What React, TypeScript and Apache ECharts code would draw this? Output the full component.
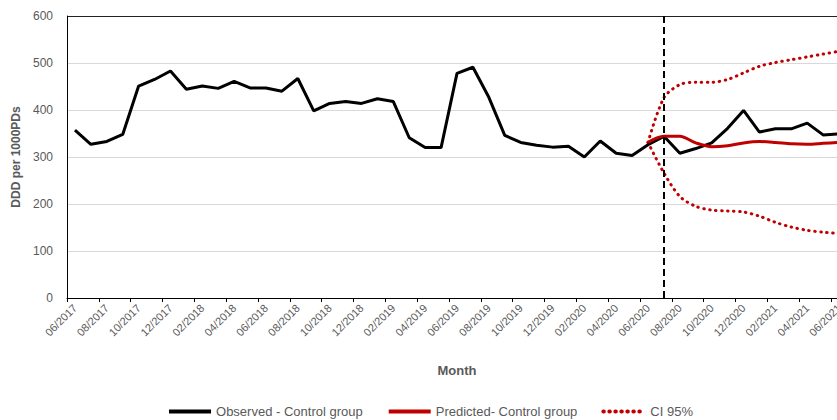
import React, { useEffect, useRef } from "react";
import * as echarts from "echarts";

// Monthly categories, 06/2017 – 06/2021
const months = [
  "06/2017", "07/2017", "08/2017", "09/2017", "10/2017", "11/2017", "12/2017",
  "01/2018", "02/2018", "03/2018", "04/2018", "05/2018", "06/2018", "07/2018",
  "08/2018", "09/2018", "10/2018", "11/2018", "12/2018", "01/2019", "02/2019",
  "03/2019", "04/2019", "05/2019", "06/2019", "07/2019", "08/2019", "09/2019",
  "10/2019", "11/2019", "12/2019", "01/2020", "02/2020", "03/2020", "04/2020",
  "05/2020", "06/2020", "07/2020", "08/2020", "09/2020", "10/2020", "11/2020",
  "12/2020", "01/2021", "02/2021", "03/2021", "04/2021", "05/2021", "06/2021",
];

// Observed DDD per 1000 PDs, control group
const observed = [
  357, 327, 333, 348, 451, 465, 483, 444, 451, 446, 461, 447, 447, 440, 467,
  398, 414, 418, 414, 424, 418, 341, 320, 320, 478, 491, 427, 346, 331, 325,
  321, 323, 300, 334, 308, 303, 326, 344, 308, 318, 330, 361, 399, 353, 360,
  360, 372, 347, 349,
];

// Forecast from 06/2020 onward
const predicted = [
  331, 344, 344, 330, 322, 324, 330, 333, 331, 328, 327, 329, 331,
];
const ciUpper = [
  331, 426, 454, 459, 459, 465, 479, 493, 501, 507, 513, 519, 525,
];
const ciLower = [
  331, 266, 216, 195, 187, 185, 183, 174, 161, 151, 144, 140, 137,
];

const forecastStart = "06/2020";
const interventionMonth = "07/2020";

const yTicks = [0, 100, 200, 300, 400, 500, 600];

const padForecast = (vals: number[]) => {
  const offset = months.indexOf(forecastStart);
  return months.map((_, i) => (i >= offset ? vals[i - offset] : null));
};

const FONT = "'Liberation Sans', Arial, sans-serif";
const GREY = "#595959";
const RED = "#c00000";

export default function App() {
  const ref = useRef<HTMLDivElement>(null);

  useEffect(() => {
    if (!ref.current) return;
    const chart = echarts.init(ref.current, undefined, { renderer: "svg" });
    chart.setOption({
      animation: false,
      textStyle: { fontFamily: FONT },
      grid: { left: 67, right: 13, top: 16, bottom: 122 },
      legend: {
        left: "center",
        top: 400,
        itemWidth: 42,
        itemHeight: 14,
        itemGap: 24,
        itemStyle: { opacity: 0 },
        lineStyle: { width: 4 },
        textStyle: { fontFamily: FONT, fontSize: 13, color: GREY },
        data: ["Observed - Control group", "Predicted- Control group", "CI 95%"],
      },
      xAxis: {
        type: "category",
        data: months,
        boundaryGap: true,
        name: "Month",
        nameLocation: "middle",
        nameGap: 66,
        nameTextStyle: { fontFamily: FONT, fontSize: 13, fontWeight: "bold", color: GREY },
        axisLine: { lineStyle: { color: "#000", width: 1 } },
        axisTick: { show: true, interval: 1, length: 4, lineStyle: { color: "#000" } },
        axisLabel: {
          interval: 1,
          rotate: 45,
          margin: 8,
          fontSize: 11,
          color: GREY,
          fontFamily: FONT,
        },
        splitLine: { show: false },
      },
      yAxis: {
        type: "value",
        min: yTicks[0],
        max: yTicks[yTicks.length - 1],
        interval: 100,
        name: "DDD per 1000PDs",
        nameLocation: "middle",
        nameGap: 44,
        nameTextStyle: { fontFamily: FONT, fontSize: 12, fontWeight: "bold", color: GREY },
        axisLine: { show: true, lineStyle: { color: "#000", width: 1 } },
        axisTick: { show: false },
        axisLabel: { fontSize: 12, color: GREY, margin: 14, fontFamily: FONT },
        splitLine: {
          show: true,
          lineStyle: {
            color: ["#d9d9d9", "#d9d9d9", "#d9d9d9", "#d9d9d9", "#d9d9d9", "#d9d9d9", "#222"],
            width: 1,
          },
        },
      },
      series: [
        {
          name: "Observed - Control group",
          type: "line",
          data: observed,
          symbol: "none",
          z: 3,
          lineStyle: { color: "#000", width: 3 },
          itemStyle: { color: "#000" },
          markLine: {
            silent: true,
            symbol: "none",
            label: { show: false },
            lineStyle: { color: "#000", type: [7, 4], width: 2 },
            data: [{ xAxis: interventionMonth }],
          },
        },
        {
          name: "Predicted- Control group",
          type: "line",
          data: padForecast(predicted),
          symbol: "none",
          smooth: 0.3,
          z: 4,
          lineStyle: { color: RED, width: 3 },
          itemStyle: { color: RED },
        },
        {
          name: "CI 95%",
          type: "line",
          data: padForecast(ciUpper),
          symbol: "none",
          smooth: 0.3,
          z: 2,
          lineStyle: { color: RED, width: 3, type: [0.5, 5.5], cap: "round" },
          itemStyle: { color: RED },
        },
        {
          name: "CI 95%",
          type: "line",
          data: padForecast(ciLower),
          symbol: "none",
          smooth: 0.3,
          z: 2,
          lineStyle: { color: RED, width: 3, type: [0.5, 5.5], cap: "round" },
          itemStyle: { color: RED },
        },
      ],
    });
    return () => chart.dispose();
  }, []);

  return (
    <div
      style={{
        position: "fixed",
        left: 0,
        top: 0,
        width: 837,
        height: 420,
        overflow: "hidden",
        background: "#fff",
      }}
    >
      <div ref={ref} style={{ width: 860, height: 420 }} />
    </div>
  );
}
